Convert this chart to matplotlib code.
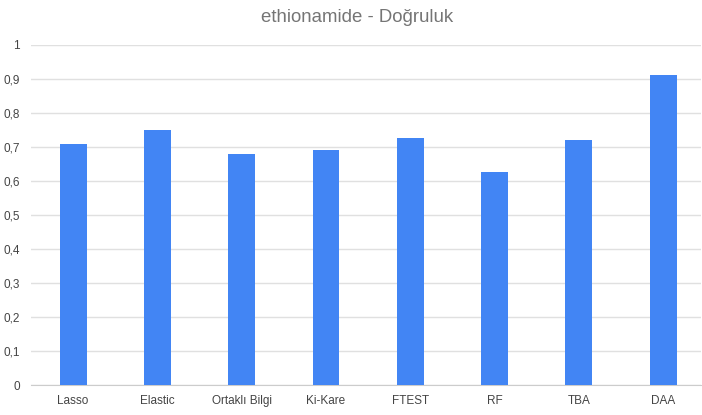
import matplotlib.pyplot as plt
from matplotlib.ticker import FuncFormatter

plt.rcParams['font.family'] = ['Liberation Sans', 'DejaVu Sans']

methods = ["Lasso", "Elastic", "Ortaklı Bilgi", "Ki-Kare", "FTEST", "RF", "TBA", "DAA"]
accuracy = [0.709, 0.750, 0.679, 0.690, 0.727, 0.627, 0.722, 0.911]
yticks = [0, 0.1, 0.2, 0.3, 0.4, 0.5, 0.6, 0.7, 0.8, 0.9, 1.0]


def comma_fmt(v, pos):
    # Turkish-style decimal comma, whole numbers without decimals
    if v in (0, 1):
        return f"{v:.0f}"
    return f"{v:.1f}".replace(".", ",")


fig = plt.figure(figsize=(7.02, 4.15), dpi=100)
ax = fig.add_axes([0.0442, 0.0716, 0.9544, 0.82])

x = range(len(methods))
ax.bar(x, accuracy, width=0.32, color="#4285F4", zorder=3)

ax.set_xlim(-0.5, len(methods) - 0.55)
ax.set_ylim(0, 1)
ax.set_yticks(yticks)
ax.yaxis.set_major_formatter(FuncFormatter(comma_fmt))
ax.set_xticks(list(x))
ax.set_xticklabels(methods)

ax.grid(axis="y", color="#e0e0e0", linewidth=1, zorder=0)
for s in ["top", "right", "left"]:
    ax.spines[s].set_visible(False)
ax.spines["bottom"].set_color("#cccccc")
ax.tick_params(axis="both", length=0, labelsize=8.5, labelcolor="#444444")
ax.tick_params(axis="y", pad=8)
ax.tick_params(axis="x", pad=7)

fig.text(357 / 702, 1 - 18 / 415, "ethionamide - Doğruluk", ha="center", va="center",
         fontsize=13.4, color="#757575")

fig.savefig("out.png", dpi=100)
